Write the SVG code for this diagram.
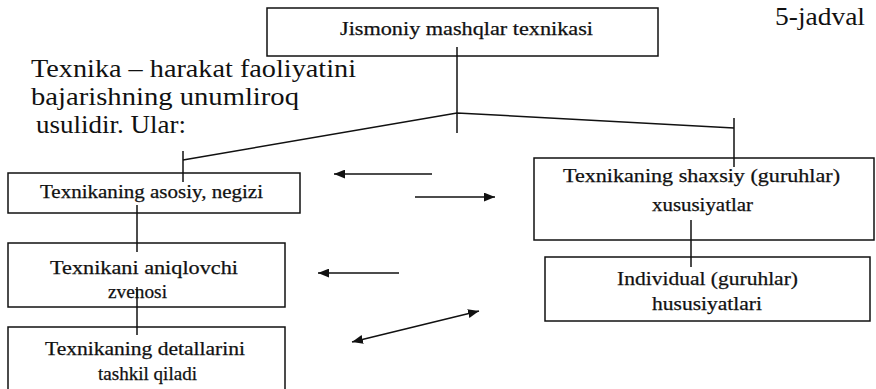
<svg xmlns="http://www.w3.org/2000/svg" width="876" height="389" viewBox="0 0 876 389">
<style>
.box{fill:#fff;stroke:#111;stroke-width:1.5}
.bt{font-family:"Liberation Serif","Times New Roman",serif;font-size:18.5px;fill:#111;stroke:#111;stroke-width:0.25}
.big{font-family:"Liberation Serif","Times New Roman",serif;font-size:25px;fill:#111}
.ln{fill:none;stroke:#111;stroke-width:1.5}
</style>
<defs>
<marker id="ah" viewBox="0 0 10 8" refX="10" refY="4" markerWidth="11" markerHeight="9" markerUnits="userSpaceOnUse" orient="auto-start-reverse">
<path d="M0,0 L10,4 L0,8 z" fill="#111"/>
</marker>
</defs>
<text class="big" x="775" y="25" font-size="23" textLength="90" lengthAdjust="spacingAndGlyphs">5-jadval</text>
<text class="big" x="31" y="77" textLength="325" lengthAdjust="spacingAndGlyphs">Texnika – harakat faoliyatini</text>
<text class="big" x="31" y="105" textLength="268" lengthAdjust="spacingAndGlyphs">bajarishning unumliroq</text>
<text class="big" x="36" y="133" textLength="150" lengthAdjust="spacingAndGlyphs">usulidir. Ular:</text>
<g id="n-top"><rect class="box" x="267" y="8" width="391" height="48"/><text class="bt" x="340" y="35" textLength="253" lengthAdjust="spacingAndGlyphs">Jismoniy mashqlar texnikasi</text></g>
<g id="n-asosiy"><rect class="box" x="8" y="173" width="292" height="40"/><text class="bt" x="40" y="198" textLength="223" lengthAdjust="spacingAndGlyphs">Texnikaning asosiy, negizi</text></g>
<g id="n-aniqlovchi"><rect class="box" x="8" y="243" width="277" height="64"/><text class="bt" x="50" y="274" textLength="188" lengthAdjust="spacingAndGlyphs">Texnikani aniqlovchi</text><text class="bt" x="108" y="298" textLength="59" lengthAdjust="spacingAndGlyphs">zvenosi</text></g>
<g id="n-detallar"><rect class="box" x="8" y="327" width="277" height="70"/><text class="bt" x="45" y="355" textLength="200" lengthAdjust="spacingAndGlyphs">Texnikaning detallarini</text><text class="bt" x="98" y="380" textLength="99" lengthAdjust="spacingAndGlyphs">tashkil qiladi</text></g>
<g id="n-shaxsiy"><rect class="box" x="534" y="158" width="340" height="82"/><text class="bt" x="563" y="182" textLength="277" lengthAdjust="spacingAndGlyphs">Texnikaning shaxsiy (guruhlar)</text><text class="bt" x="652" y="211" textLength="101" lengthAdjust="spacingAndGlyphs">xususiyatlar</text></g>
<g id="n-individual"><rect class="box" x="545" y="257" width="325" height="64"/><text class="bt" x="617" y="285" textLength="181" lengthAdjust="spacingAndGlyphs">Individual (guruhlar)</text><text class="bt" x="652" y="310" textLength="110" lengthAdjust="spacingAndGlyphs">hususiyatlari</text></g>
<g id="connectors">
<line class="ln" x1="457" y1="47" x2="457" y2="133"/>
<polyline class="ln" points="183,160 457,113 734,128"/>
<line class="ln" x1="183" y1="151" x2="183" y2="182"/>
<line class="ln" x1="734" y1="118" x2="734" y2="167"/>
<line class="ln" x1="137" y1="205" x2="137" y2="252"/>
<line class="ln" x1="137" y1="287" x2="137" y2="335"/>
<line class="ln" x1="691" y1="220" x2="691" y2="267"/>
<line class="ln" x1="432" y1="174" x2="334" y2="174" marker-end="url(#ah)"/>
<line class="ln" x1="415" y1="197" x2="495" y2="197" marker-end="url(#ah)"/>
<line class="ln" x1="399" y1="273" x2="318" y2="273" marker-end="url(#ah)"/>
<line class="ln" x1="352" y1="342" x2="479" y2="311" marker-start="url(#ah)" marker-end="url(#ah)"/>
</g>
</svg>
